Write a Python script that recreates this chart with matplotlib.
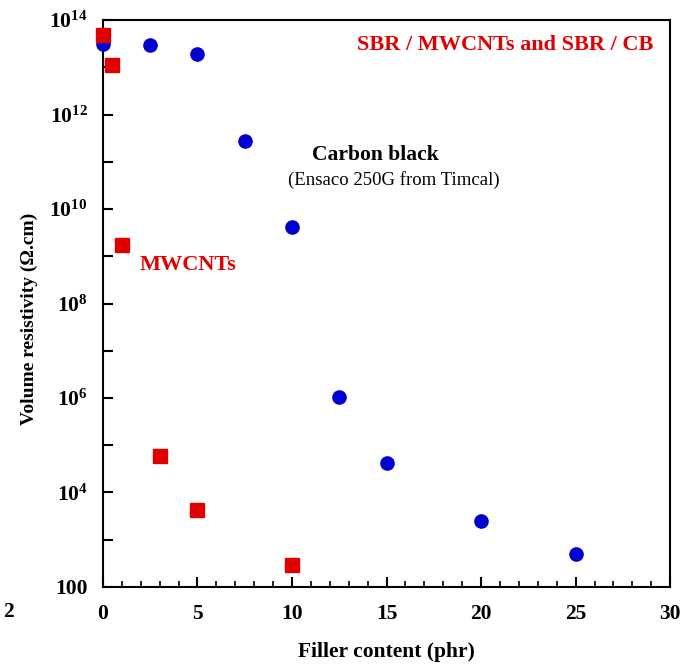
import matplotlib
matplotlib.use("Agg")
import matplotlib.pyplot as plt
from matplotlib.ticker import FixedLocator, FuncFormatter, MultipleLocator
import numpy as np

plt.rcParams['font.family'] = ['Liberation Serif', 'DejaVu Serif']
plt.rcParams['mathtext.fontset'] = 'custom'
plt.rcParams['mathtext.rm'] = 'Liberation Serif:bold'
plt.rcParams['mathtext.bf'] = 'Liberation Serif:bold'

cb_x = [0, 2.5, 5, 7.5, 10, 12.5, 15, 20, 25]
cb_y = [3.1e13, 2.9e13, 1.9e13, 2.75e11, 4.2e9, 1.05e6, 4.2e4, 2.5e3, 5.0e2]
cnt_x = [0, 0.5, 1, 3, 5, 10]
cnt_y = [4.8e13, 1.1e13, 1.7e9, 5.9e4, 4.3e3, 2.9e2]

fig = plt.figure(figsize=(6.86, 6.69), dpi=100)
ax = fig.add_axes([0.150, 0.1226, 0.827, 0.8474])

ax.plot(cb_x, cb_y, 'o', color='#0000d0', markersize=9.5, linestyle='none', clip_on=False, zorder=3)
ax.plot(cnt_x, cnt_y, 's', color='#e00000', markersize=9.5, linestyle='none', clip_on=False, zorder=4)

ax.set_yscale('log')
ax.set_xlim(0, 30)
ax.set_ylim(1e2, 1e14)

ax.xaxis.set_major_locator(MultipleLocator(5))
ax.xaxis.set_minor_locator(MultipleLocator(1))
ax.yaxis.set_major_locator(FixedLocator([10.0**k for k in range(2, 15)]))
ax.yaxis.set_minor_locator(FixedLocator([]))

def yfmt(v, pos):
    k = int(round(np.log10(v)))
    if k % 2:
        return ''
    if k == 2:
        return '100'
    return r'$\mathbf{10^{%d}}$' % k

ax.yaxis.set_major_formatter(FuncFormatter(yfmt))
ax.tick_params(axis='both', which='both', direction='in', top=False, right=False)
ax.tick_params(axis='both', which='major', length=7.5, width=1.5, labelsize=15.5)
ax.tick_params(axis='x', which='major', pad=12)
ax.tick_params(axis='y', which='major', pad=11)
ax.tick_params(axis='x', which='minor', length=4.5, width=1.2)
for lab in ax.get_xticklabels() + ax.get_yticklabels():
    lab.set_fontweight('bold')
for s in ax.spines.values():
    s.set_linewidth(1.5)

ax.set_xlabel('Filler content (phr)', fontsize=15.5, fontweight='bold', labelpad=13)
ax.set_ylabel('Volume resistivity (Ω.cm)', fontsize=14, fontweight='bold')
ax.yaxis.set_label_coords(-0.115, 0.473)

ax.text(0.970, 0.956, 'SBR / MWCNTs and SBR / CB', transform=ax.transAxes, color='#e00000',
        fontsize=16, fontweight='bold', ha='right', va='center')
ax.text(0.480, 0.762, 'Carbon black', transform=ax.transAxes, color='black',
        fontsize=15.5, fontweight='bold', ha='center', va='center')
ax.text(0.513, 0.718, '(Ensaco 250G from Timcal)', transform=ax.transAxes, color='black',
        fontsize=13.5, ha='center', va='center')
ax.text(0.064, 0.568, 'MWCNTs', transform=ax.transAxes, color='#e00000',
        fontsize=16, fontweight='bold', ha='left', va='center')

fig.text(0.004, 0.085, '2', fontsize=15.5, fontweight='bold', ha='left', va='center')

fig.savefig('out.png', dpi=100)
